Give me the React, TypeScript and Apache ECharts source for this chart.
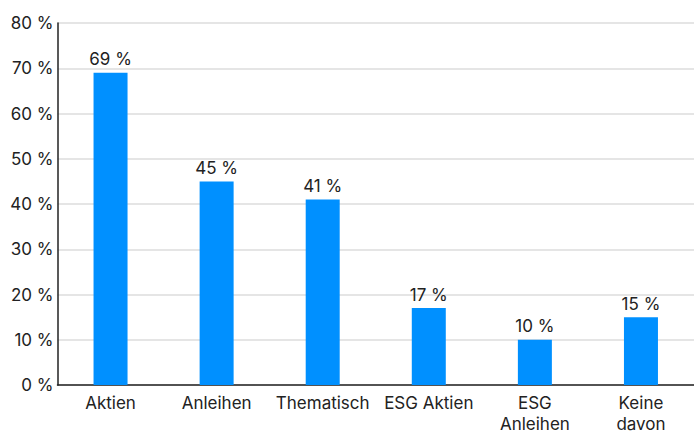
import React, { useEffect, useRef } from "react";
import * as echarts from "echarts";

const categories = ["Aktien", "Anleihen", "Thematisch", "ESG Aktien", "ESG\nAnleihen", "Keine\ndavon"];
const values = [69, 45, 41, 17, 10, 15];

export default function App() {
  const ref = useRef<HTMLDivElement>(null);
  useEffect(() => {
    document.body.style.margin = "0";
    const chart = echarts.init(ref.current!, null, { renderer: "svg" });
    chart.setOption({
      animation: false,
      textStyle: { fontFamily: "Inter" },
      grid: { left: 57.5, right: -8.5, top: 23, bottom: 46, containLabel: false },
      xAxis: {
        type: "category",
        data: categories,
        axisLine: { lineStyle: { color: "#222", width: 1.5 } },
        axisTick: { show: false },
        axisLabel: { color: "#222", fontSize: 17, lineHeight: 21, margin: 7, interval: 0 },
      },
      yAxis: {
        type: "value",
        min: 0,
        max: 80,
        interval: 10,
        axisLine: { show: true, lineStyle: { color: "#222", width: 1.5 } },
        axisTick: { show: false },
        splitLine: { lineStyle: { color: "#ddd", width: 1.5 } },
        axisLabel: { color: "#222", fontSize: 17, margin: 4, formatter: (v: number) => `${v} %` },
      },
      series: [
        {
          type: "bar",
          data: values,
          barWidth: 34,
          itemStyle: { color: "#0090FF" },
          label: {
            show: true,
            position: "top",
            distance: 5,
            color: "#222",
            fontSize: 17,
            formatter: (p: any) => `${p.value} %`,
          },
        },
      ],
    });
    return () => chart.dispose();
  }, []);
  return <div ref={ref} style={{ width: 694, height: 434 }} />;
}
